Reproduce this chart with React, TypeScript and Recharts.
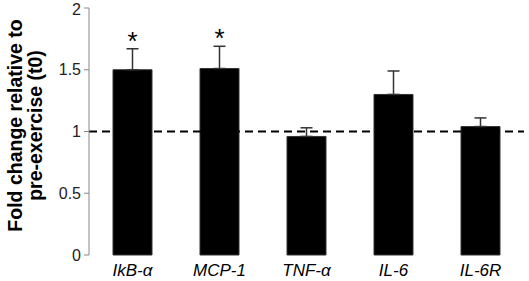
import { Bar, ComposedChart, ErrorBar, Label, Line, ReferenceLine, XAxis, YAxis } from 'recharts'

const genes = ['IkB-α', 'MCP-1', 'TNF-α', 'IL-6', 'IL-6R']
const foldChange = [1.5, 1.51, 0.96, 1.3, 1.04]
const sem = [0.17, 0.18, 0.07, 0.19, 0.07]
const significant = [true, true, false, false, false]
const yTicks = [0, 0.5, 1, 1.5, 2]
const boundaryTicks = [0, 1, 2, 3, 4, 5]

const data = genes.map((name, i) => ({
  name,
  idx: i + 0.5,
  fold: foldChange[i],
  err: [0, sem[i]],
  star: significant[i] ? foldChange[i] + sem[i] : null
}))

const font = '"Liberation Sans", Arial, sans-serif'

function StarDot(props: any) {
  const { cx, cy, payload } = props
  if (payload.star == null || cy == null) return <g key={payload.name} />
  return (
    <text key={payload.name} x={cx} y={cy + 1} textAnchor="middle" fontFamily={font} fontSize={26} fill="#000">
      *
    </text>
  )
}

function YTitle(props: any) {
  const { viewBox } = props
  const cy = viewBox.y + viewBox.height / 2 - 6
  return (
    <text transform={`rotate(-90, 0, ${cy})`} x={0} y={cy} textAnchor="middle" fontFamily={font} fontSize={19.5} fontWeight="bold" fill="#000">
      <tspan x={0} y={cy + 22}>Fold change relative to</tspan>
      <tspan x={0} y={cy + 42}>pre-exercise (t0)</tspan>
    </text>
  )
}

export default function App() {
  return (
    <div style={{ position: 'absolute', left: 0, top: 0, background: '#fff' }}>
      <ComposedChart width={529} height={281} data={data} margin={{ top: 8, right: 5, bottom: 0, left: 0 }}>
        <XAxis
          xAxisId="num"
          type="number"
          dataKey="idx"
          domain={[0, 5]}
          ticks={boundaryTicks}
          tick={false}
          tickSize={5}
          height={0}
          stroke="#888"
        />
        <XAxis
          xAxisId="cat"
          dataKey="name"
          axisLine={false}
          tickLine={false}
          height={26}
          tickMargin={3}
          tick={{ fill: '#000', fontSize: 17, fontStyle: 'italic', fontFamily: font }}
        />
        <YAxis
          domain={[0, 2]}
          ticks={yTicks}
          width={89}
          tickSize={5}
          tickMargin={3}
          stroke="#888"
          tick={{ fill: '#222', fontSize: 16, fontFamily: font }}
        >
          <Label content={YTitle} />
        </YAxis>
        <Bar xAxisId="cat" dataKey="fold" fill="#000" stroke="#333" barSize={39} isAnimationActive={false}>
          <ErrorBar dataKey="err" width={6} stroke="#333" strokeWidth={1.5} />
        </Bar>
        <ReferenceLine xAxisId="cat" y={1} stroke="#000" strokeWidth={2} strokeDasharray="8 5" />
        <Line xAxisId="cat" dataKey="star" stroke="none" dot={StarDot} activeDot={false} isAnimationActive={false} />
      </ComposedChart>
    </div>
  )
}
